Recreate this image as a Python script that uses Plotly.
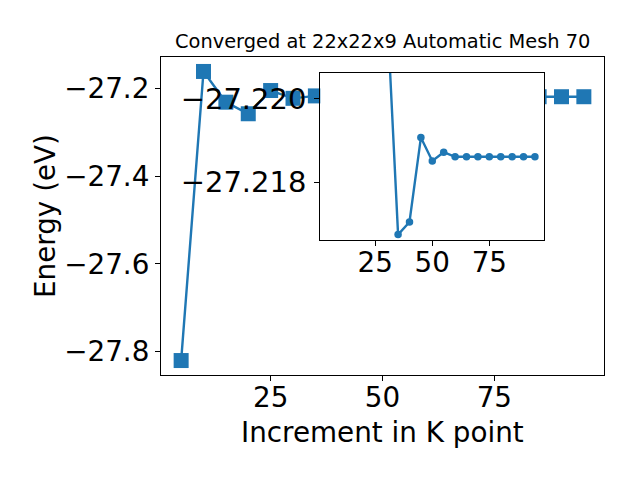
import plotly.graph_objects as go

# ---- data ----
kpoints = [5, 10, 15, 20, 25, 30, 35, 40, 45, 50, 55, 60, 65, 70, 75, 80, 85, 90, 95]
energy = [-27.8205, -27.1610, -27.2311, -27.2575, -27.2045, -27.2223, -27.21675,
          -27.21705, -27.21907, -27.21851, -27.21872, -27.21861, -27.21861,
          -27.21861, -27.21861, -27.21861, -27.21861, -27.21861, -27.21861]
inset_start = 5  # inset shows the points from 30 onwards
x_ticks = [25, 50, 75]
main_y_ticks = [-27.8, -27.6, -27.4, -27.2]
inset_y_ticks = [-27.220, -27.218]

title_text = "Converged at 22x22x9 Automatic Mesh 70"
xlabel = "Increment in K point"
ylabel = "Energy (eV)"

BLUE = "#1f77b4"
FONT = "DejaVu Sans"
TICK = 27.8


def minus(v, fmt):
    return format(v, fmt).replace("-", "\u2212")


fig = go.Figure()
fig.add_trace(go.Scatter(
    x=kpoints, y=energy, mode="lines+markers",
    line=dict(color=BLUE, width=2.4),
    marker=dict(symbol="square", size=15, color=BLUE),
    xaxis="x", yaxis="y", showlegend=False, hoverinfo="skip"))
fig.add_trace(go.Scatter(
    x=kpoints[inset_start:], y=energy[inset_start:], mode="lines+markers",
    line=dict(color=BLUE, width=2.4),
    marker=dict(symbol="circle", size=7.5, color=BLUE),
    xaxis="x2", yaxis="y2", showlegend=False, hoverinfo="skip"))

axis_common = dict(
    showgrid=False, zeroline=False, showline=True, mirror=True,
    linecolor="black", linewidth=1.1, ticks="outside", ticklen=5,
    tickwidth=1.1, tickcolor="black",
    tickfont=dict(family=FONT, size=TICK, color="black"))

inset_y_axis = dict(axis_common)
inset_y_axis["tickfont"] = dict(family=FONT, size=29, color="black")

fig.update_layout(
    width=640, height=480,
    margin=dict(l=153, r=44, t=49, b=113),
    paper_bgcolor="white", plot_bgcolor="white",
    xaxis=dict(domain=[0, 1], range=[0.5, 99.5], anchor="y", ticklabelstandoff=-7,
               tickvals=x_ticks, ticktext=[str(v) for v in x_ticks], **axis_common),
    yaxis=dict(domain=[0, 1], range=[-27.8535, -27.128], anchor="x",
               tickvals=main_y_ticks,
               ticktext=[minus(v, ".1f") for v in main_y_ticks], **axis_common),
    xaxis2=dict(domain=[0.3596, 0.8652], range=[0.9, 99.1], anchor="y2",
                ticklabelstandoff=-7,
                tickvals=x_ticks, ticktext=[str(v) for v in x_ticks], **axis_common),
    yaxis2=dict(domain=[0.4245, 0.9506], range=[-27.21662, -27.22062], anchor="x2",
                tickvals=inset_y_ticks, ticklabelstandoff=2,
                ticktext=[minus(v, ".3f") for v in inset_y_ticks], **inset_y_axis),
    annotations=[
        dict(text=title_text, xref="paper", yref="paper", x=0.5, y=(375 - 42) / 318,
             xanchor="center", yanchor="middle", showarrow=False,
             font=dict(family=FONT, size=19.4, color="black")),
        dict(text=xlabel, xref="paper", yref="paper", x=0.5, y=(375 - 432) / 318,
             xanchor="center", yanchor="middle", showarrow=False,
             font=dict(family=FONT, size=TICK, color="black")),
        dict(text=ylabel, xref="paper", yref="paper", x=(45 - 161) / 443, y=0.5,
             xanchor="center", yanchor="middle", showarrow=False, textangle=-90,
             font=dict(family=FONT, size=TICK, color="black")),
    ],
)

fig.write_html("out.html")
